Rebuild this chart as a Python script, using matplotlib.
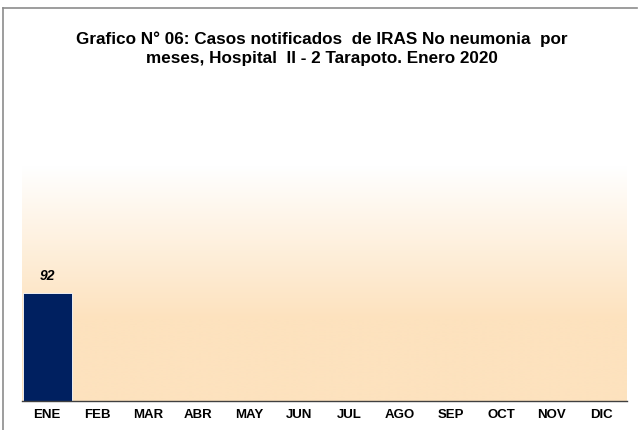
import numpy as np
import matplotlib
matplotlib.use("Agg")
import matplotlib.pyplot as plt
from matplotlib.lines import Line2D

# --------------------------------
# Data
# --------------------------------
months = ["ENE", "FEB", "MAR", "ABR", "MAY", "JUN",
          "JUL", "AGO", "SEP", "OCT", "NOV", "DIC"]
casos = [92]  # solo enero reportado

title = ("Grafico N° 06: Casos notificados  de IRAS No neumonia  por\n"
         "meses, Hospital  II - 2 Tarapoto. Enero 2020")

plt.rcParams['font.family'] = ['Liberation Sans Narrow', 'Liberation Sans', 'DejaVu Sans']

W, H = 638, 430
fig = plt.figure(figsize=(W / 100, H / 100), dpi=100)
ax = fig.add_axes([22 / W, (H - 401) / H, (627 - 22) / W, (401 - 166) / H])

# --------------------------------
# Gradient background (white -> peach)
# --------------------------------
n = 256
t = np.linspace(0, 1, n)
ramp = np.clip(t / 0.65, 0, 1)
top = np.array([1.0, 1.0, 1.0])
bottom = np.array([253, 226, 190]) / 255
grad = top[None, :] * (1 - ramp[:, None]) + bottom[None, :] * ramp[:, None]
grad = grad[:, None, :]
ax.imshow(grad, extent=[0, 1, 0, 1], transform=ax.transAxes,
          aspect="auto", zorder=0, interpolation="bilinear")

# --------------------------------
# Bars
# --------------------------------
x = np.arange(len(months))
ax.bar(x[:len(casos)], casos, width=0.97, color="#002060",
       edgecolor="white", linewidth=0.6, zorder=2)
for xi, v in zip(x, casos):
    ax.text(xi, v + 8, str(v), ha="center", va="bottom",
            fontsize=10, fontweight="bold", fontstyle="italic", zorder=3)

ax.set_xlim(-0.5, len(months) - 0.5)
ax.set_ylim(0, 200)
ax.set_xticks(x)
ax.set_xticklabels(months, fontsize=9.5, fontweight="bold")
ax.tick_params(axis="x", length=0, pad=6)
ax.set_yticks([])
for s in ["top", "right", "left"]:
    ax.spines[s].set_visible(False)
ax.spines["bottom"].set_color("#404040")
ax.spines["bottom"].set_linewidth(1.0)
ax.spines["bottom"].set_zorder(4)

# --------------------------------
# Title and frame
# --------------------------------
fig.text(322 / W, 1 - 49 / H, title, ha="center", va="center",
         fontsize=12.3, fontweight="bold", linespacing=1.3)

fig.add_artist(Line2D([3 / W, 637 / W], [1 - 8 / H, 1 - 8 / H],
                      transform=fig.transFigure, color="#8c8c8c", linewidth=1.2))
fig.add_artist(Line2D([3 / W, 3 / W], [1 - 8 / H, 0],
                      transform=fig.transFigure, color="#8c8c8c", linewidth=1.2))

fig.savefig("out.png", dpi=100)
